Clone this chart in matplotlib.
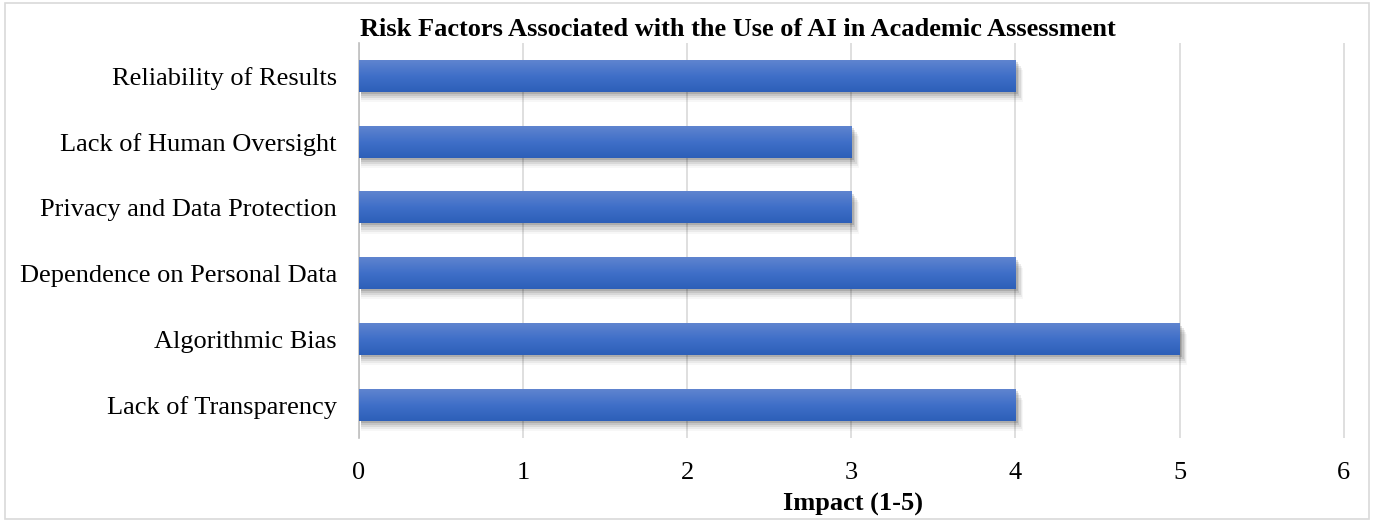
import matplotlib
matplotlib.use("Agg")
import matplotlib.pyplot as plt
import numpy as np
from matplotlib.colors import LinearSegmentedColormap
from matplotlib.patches import Rectangle

categories = ["Lack of Transparency", "Algorithmic Bias", "Dependence on Personal Data",
              "Privacy and Data Protection", "Lack of Human Oversight", "Reliability of Results"]
impact = [4, 5, 4, 3, 3, 4]
xticks = [0, 1, 2, 3, 4, 5, 6]

plt.rcParams['font.family'] = ['Liberation Serif', 'DejaVu Serif']

fig = plt.figure(figsize=(13.74, 5.21), dpi=100)
fig.patches.append(Rectangle((0.004, 0.004), 0.992, 0.99, transform=fig.transFigure,
                             fill=False, edgecolor='#d9d9d9', linewidth=1.2))
ax = fig.add_axes([0.2613, 0.1593, 0.7190, 0.7582])

cmap = LinearSegmentedColormap.from_list("g", ["#5f84cf", "#3f6fc8", "#2d5fb8"])
grad = np.linspace(0, 1, 64).reshape(-1, 1)
h = 0.48
for i, v in enumerate(impact):
    # shadow
    for k, a in enumerate([0.12, 0.09, 0.07, 0.05, 0.03]):
        d = 0.012 * (k + 1)
        ax.add_patch(Rectangle((0.01, i - h / 2 - d * 2.6), v + d * 0.6, h, facecolor='black',
                               alpha=a, edgecolor='none', zorder=2))
    ax.imshow(grad, cmap=cmap, aspect='auto', extent=(0, v, i - h / 2, i + h / 2),
              origin='upper', zorder=3, interpolation='bilinear')

ax.set_xlim(0, 6.02)
ax.set_ylim(-0.5, 5.5)
ax.set_yticks(range(len(categories)))
ax.set_yticklabels(categories, fontsize=19)
ax.set_xticks(xticks)
ax.set_xticklabels([str(t) for t in xticks], fontsize=19)
ax.tick_params(axis='y', length=0, pad=16)
ax.tick_params(axis='x', length=0, pad=17)
ax.grid(axis='x', color='#d9d9d9', linewidth=1.2, zorder=0)
ax.set_axisbelow(True)
for s in ['top', 'right', 'bottom']:
    ax.spines[s].set_visible(False)
ax.spines['left'].set_color('#bfbfbf')
ax.spines['left'].set_linewidth(1.2)
ax.set_title("Risk Factors Associated with the Use of AI in Academic Assessment",
             fontsize=19, fontweight='bold', pad=5, x=0.383)
ax.set_xlabel("Impact (1-5)", fontsize=19, fontweight='bold', labelpad=7)

fig.savefig("out.png", dpi=100)
